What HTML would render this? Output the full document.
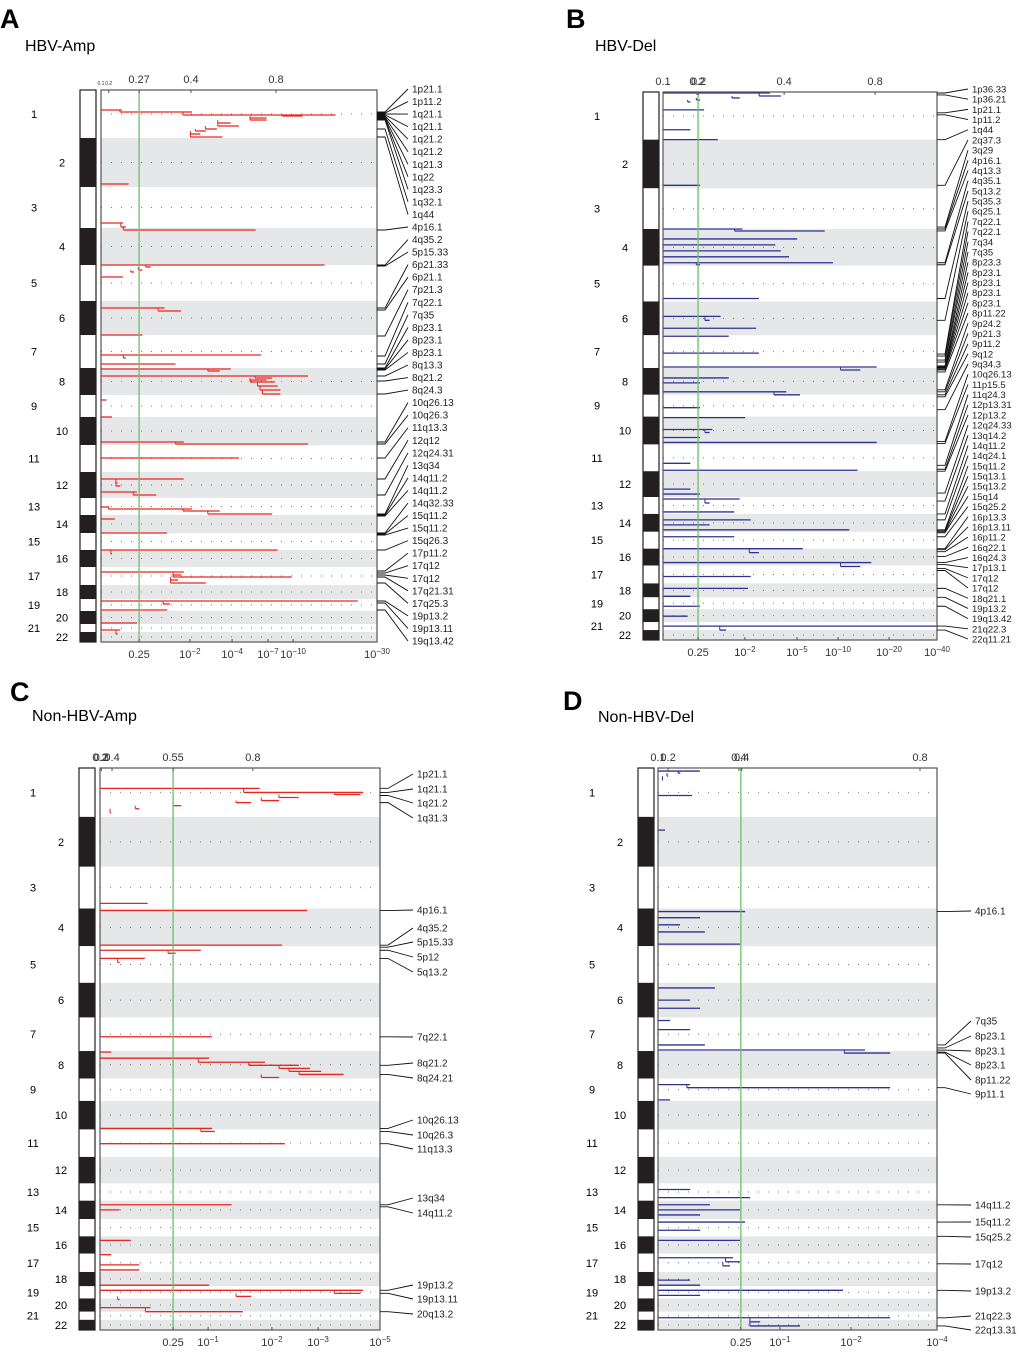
<!DOCTYPE html>
<html><head><meta charset="utf-8">
<style>
body{margin:0;background:#fff;}
svg{display:block;font-family:"Liberation Sans",sans-serif;}
</style></head>
<body>
<svg id="fig" width="1020" height="1352" viewBox="0 0 1020 1352" xmlns="http://www.w3.org/2000/svg">
<text x="0" y="28" font-size="27" font-weight="bold">A</text>
<text x="25" y="51" font-size="16">HBV-Amp</text>
<text x="566" y="28" font-size="27" font-weight="bold">B</text>
<text x="595" y="51" font-size="16">HBV-Del</text>
<text x="10" y="701" font-size="27" font-weight="bold">C</text>
<text x="32" y="721" font-size="16">Non-HBV-Amp</text>
<text x="563" y="710" font-size="27" font-weight="bold">D</text>
<text x="598" y="722" font-size="16">Non-HBV-Del</text>
</svg>
<script>
// genome layout (relative units, total 552)
const chromBounds=[0,48,97,138,175,211,245,278,305,327,355,382,408,425,443,460,477,495,509,521,534,542,552];
const chromNames=["1","2","3","4","5","6","7","8","9","10","11","12","13","14","15","16","17","18","19","20","21","22"];

// Panel A
const aPos=[20,22,25,26,28,30,33,36,39,41,44,47,94,133,137,140,175,177,180,182,187,218,221,245,265,268,274,279,281,286,288,290,292,296,300,304,310,327,352,354,368,389,393,396,402,405,417,419,421,424,429,443,460,464,482,485,487,490,493,511,514,520,533,540,544];
const aVal=[0.076,0.33,0.85,0.73,0.6,0.6,0.47,0.5,0.42,0.38,0.36,0.44,0.1,0.08,0.09,0.56,0.81,0.18,0.15,0.12,0.08,0.23,0.29,0.15,0.58,0.09,0.27,0.47,0.43,0.75,0.62,0.6,0.63,0.64,0.65,0.65,0.02,0.04,0.3,0.75,0.5,0.3,0.06,0.07,0.13,0.2,0.03,0.33,0.43,0.62,0.05,0.24,0.64,0.04,0.3,0.29,0.69,0.28,0.38,0.93,0.25,0.24,0.13,0.07,0.06];
const aThr=0.138;
const aTopTicks=[0,0.028,0.138,0.326,0.634];
const aTopLabels=["0.1","0.2","0.27","0.4","0.8"];
const aBotTicks=[0.138,0.322,0.475,0.605,0.696,1];
const aBotBase=["0.25","10","10","10","10","10"];
const aBotExp=["","−2","−4","−7","−10","−30"];
const aLabels=["1p21.1","1p11.2","1q21.1","1q21.1","1q21.2","1q21.2","1q21.3","1q22","1q23.3","1q32.1","1q44","4p16.1","4q35.2","5p15.33","6p21.33","6p21.1","7p21.3","7q22.1","7q35","8p23.1","8p23.1","8p23.1","8q13.3","8q21.2","8q24.3","10q26.13","10q26.3","11q13.3","12q12","12q24.31","13q34","14q11.2","14q11.2","14q32.33","15q11.2","15q11.2","15q26.3","17p11.2","17q12","17q12","17q21.31","17q25.3","19p13.2","19p13.11","19q13.42"];
const aPeaks=[22,23,24,25,26,27,28,29,30,39,47,140,175,176,218,220,246,266,274,278,279,280,286,291,304,352,354,368,389,405,424,425,426,443,444,445,460,481,483,485,487,493,511,513,520];

// Panel B
const bPos=[1,4,6,8,10,18,38,48,94,138,140,148,154,160,166,172,174,208,226,230,238,246,263,277,280,288,293,302,305,318,328,340,343,348,353,374,381,400,405,410,414,423,431,436,441,448,460,464,474,478,488,500,508,518,528,538,542];
const bVal=[0.39,0.43,0.28,0.135,0.1,0.15,0.1,0.2,0.135,0.29,0.59,0.49,0.41,0.43,0.46,0.62,0.135,0.35,0.21,0.17,0.34,0.24,0.35,0.78,0.72,0.24,0.135,0.45,0.5,0.135,0.3,0.18,0.17,0.135,0.78,0.1,0.71,0.1,0.135,0.28,0.17,0.26,0.32,0.17,0.68,0.26,0.51,0.35,0.76,0.72,0.32,0.31,0.1,0.135,0.09,1.0,0.23];
const bThr=0.128;
const bTopTicks=[0,0.124,0.13,0.442,0.774];
const bTopLabels=["0.1","0.2","0.2","0.4","0.8"];
const bBotTicks=[0.128,0.299,0.489,0.639,0.825,1];
const bBotBase=["0.25","10","10","10","10","10"];
const bBotExp=["","−2","−5","−10","−20","−40"];
const bLabels=["1p36.33","1p36.21","1p21.1","1p11.2","1q44","2q37.3","3q29","4p16.1","4q13.3","4q35.1","5q13.2","5q35.3","6q25.1","7q22.1","7q22.1","7q34","7q35","8p23.3","8p23.1","8p23.1","8p23.1","8p23.1","8p11.22","9p24.2","9p21.3","9p11.2","9q12","9q34.3","10q26.13","11p15.5","11q24.3","12p13.31","12p13.2","12q24.33","13q14.2","14q11.2","14q24.1","15q11.2","15q13.1","15q13.2","15q14","15q25.2","16p13.3","16p13.11","16p11.2","16q22.1","16q24.3","17p13.1","17q12","17q12","18q21.1","19p13.2","19q13.42","21q22.3","22q11.21"];
const bPeaks=[1,3,21,23,48,94,136,138,140,172,174,208,230,264,266,270,272,276,277,278,279,280,282,300,302,305,307,320,352,354,376,380,382,404,412,425,431,441,442,443,444,448,460,461,463,468,474,476,480,482,500,509,518,538,542];

// Panel C
const cPos=[20,24,26,29,32,34,37,40,44,133,140,174,179,182,187,191,264,279,285,289,292,295,298,301,304,354,357,369,429,434,464,478,488,493,508,513,516,519,522,530,534];
const cVal=[0.57,0.94,0.93,0.71,0.64,0.54,0.29,0.14,0.04,0.17,0.74,0.65,0.36,0.27,0.16,0.07,0.40,0.04,0.39,0.59,0.71,0.75,0.79,0.87,0.64,0.40,0.41,0.66,0.47,0.07,0.11,0.04,0.14,0.14,0.39,0.94,0.93,0.54,0.07,0.18,0.51];
const cThr=0.261;
const cTopTicks=[0,0.005,0.043,0.261,0.546];
const cTopLabels=["0.2","0.3","0.4","0.55","0.8"];
const cBotTicks=[0.261,0.386,0.614,0.779,1];
const cBotBase=["0.25","10","10","10","10"];
const cBotExp=["","−1","−2","−3","−5"];
const cLabels=["1p21.1","1q21.1","1q21.2","1q31.3","4p16.1","4q35.2","5p15.33","5p12","5q13.2","7q22.1","8q21.2","8q24.21","10q26.13","10q26.3","11q13.3","13q34","14q11.2","19p13.2","19p13.11","20q13.2"];
const cPeaks=[20,24,27,34,140,174,176,179,187,264,292,301,354,357,369,429,431,513,516,534];

// Panel D
const dPos=[3,5,8,12,27,61,141,147,154,161,173,216,228,236,248,257,272,277,280,311,314,326,414,422,429,434,439,446,454,464,481,485,489,503,508,513,518,540,544,548];
const dVal=[0.15,0.08,0.036,0.018,0.122,0.025,0.312,0.151,0.079,0.168,0.294,0.204,0.115,0.151,0.043,0.115,0.168,0.742,0.832,0.115,0.832,0.043,0.115,0.330,0.186,0.294,0.151,0.312,0.151,0.294,0.269,0.294,0.258,0.115,0.151,0.663,0.151,0.832,0.366,0.509];
const dThr=0.297;
const dTopTicks=[0,0.036,0.29,0.3,0.939];
const dTopLabels=["0.1","0.2","0.4","0.4","0.8"];
const dBotTicks=[0.297,0.437,0.692,1];
const dBotBase=["0.25","10","10","10"];
const dBotExp=["","−1","−2","−4"];
const dLabels=["4p16.1","7q35","8p23.1","8p23.1","8p23.1","8p11.22","9p11.1","14q11.2","15q11.2","15q25.2","17q12","19p13.2","21q22.3","22q13.31"];
const dPeaks=[141,272,275,277,279,280,314,429,446,460,487,513,540,548];

const svg=document.getElementById('fig');
const NS='http://www.w3.org/2000/svg';
function mk(tag,attrs,parent){const e=document.createElementNS(NS,tag);for(const k in attrs)e.setAttribute(k,attrs[k]);(parent||svg).appendChild(e);return e;}

function panel(p){
  const g=mk('g',{});
  
  
  const H=p.bottom-p.top, W=p.right-p.left;
  const yS=v=>p.top+Math.min(v,552)*H/552;
  const xS=v=>p.left+Math.min(v,1)*W;
  for(let i=0;i<22;i++){
    const y0=yS(chromBounds[i]),y1=yS(chromBounds[i+1]);
    if(i%2===1){
      const band=mk('rect',{x:p.left,y:y0,width:W,height:y1-y0,fill:'#e6e7e8'},g);
      
      
    }
    const ideo=mk('rect',{x:p.ideoX,y:y0,width:16,height:y1-y0,fill:i%2?'#231f20':'#fff'},g);
    
    
    const ym=(y0+y1)/2;
    const dl=mk('line',{x1:p.left,x2:p.right,y1:ym,y2:ym,stroke:'#777','stroke-width':1,'stroke-dasharray':'1 9'},g);
    
    
    const lbl=mk('text',{x:(i%2===0&&i!==19&&i!==21)?p.ideoX-46:p.ideoX-18,y:ym+4,'font-size':11,'text-anchor':'middle'},g);
    lbl.textContent=chromNames[i];
    
    
  }
  const ib=mk('rect',{x:p.ideoX,y:p.top,width:16,height:H,fill:'none',stroke:'#231f20','stroke-width':1.2},g);
  
  
  const idx=p.pos.map((v,i)=>i).sort((a,b)=>p.pos[a]-p.pos[b]);
  for(let k=0;k<idx.length;k++){
    const i=idx[k];
    const y=yS(p.pos[i]);
    let start=0;
    if(k>0){const j=idx[k-1];if(p.pos[i]-p.pos[j]<=4)start=Math.min(p.val[j],p.val[i])*0.9;}
    const b=mk('line',{x1:xS(start),x2:xS(p.val[i]),y1:y,y2:y,stroke:p.color,'stroke-width':1.3},g);
    
    
    if(start>0){
      const j=idx[k-1];
      const sx=xS(start);
      const v=mk('line',{x1:sx,x2:sx,y1:yS(p.pos[j]),y2:y,stroke:p.color,'stroke-width':1},g);
      
      
    }
  }
  const th=mk('line',{x1:xS(p.thr),x2:xS(p.thr),y1:p.top,y2:p.bottom,stroke:'#6cbf6c','stroke-width':1.3},g);
  
  
  const fr=mk('rect',{x:p.left,y:p.top,width:W,height:H,fill:'none',stroke:'#555','stroke-width':1.2},g);
  
  
  for(let i=0;i<p.topTicks.length;i++){
    const x=xS(p.topTicks[i]);
    const small=(p.id==='a'&&i<2);
    const t=mk('text',{x:x,y:p.top-(small?5:7),'font-size':small?5:11,'text-anchor':'middle',fill:'#333'},g);
    t.textContent=p.topLabels[i];
    
    
    const tk=mk('line',{x1:x,x2:x,y1:p.top,y2:p.top+3,stroke:'#555'},g);
    
    
  }
  for(let i=0;i<p.botTicks.length;i++){
    const x=xS(p.botTicks[i]);
    const t=mk('text',{x:x,y:p.bottom+16,'font-size':11,'text-anchor':'middle',fill:'#333'},g);
    const s1=mk('tspan',{},t);s1.textContent=p.botBase[i];
    if(p.botExp[i]){const s2=mk('tspan',{'baseline-shift':'super','font-size':8},t);s2.textContent=p.botExp[i];}
    
    
    const tk=mk('line',{x1:x,x2:x,y1:p.bottom,y2:p.bottom-3,stroke:'#555'},g);
    
    
  }
  const n=p.labels.length;
  for(let i=0;i<n;i++){
    const ly=p.labY?p.labY[i]:p.labTop+i*(p.labBot-p.labTop)/(n-1);
    const py=yS(p.peaks[i]);
    const c=mk('polyline',{points:`${p.right},${py} ${p.right+8},${py} ${p.labX-4},${ly}`,fill:'none',stroke:'#111','stroke-width':0.9},g);
    
    
    const t=mk('text',{x:p.labX,y:ly+3.5,'font-size':p.labFont,fill:'#222'},g);
    t.textContent=p.labels[i];
    
    
  }
}
panel({id:'a',ideoX:80,left:101,right:377,top:90,bottom:642,color:'#e8261f',pos:aPos,val:aVal,thr:aThr,topTicks:aTopTicks,topLabels:aTopLabels,botTicks:aBotTicks,botBase:aBotBase,botExp:aBotExp,labels:aLabels,peaks:aPeaks,labX:412,labTop:89,labBot:641,labFont:10});
panel({id:'b',ideoX:643,left:663,right:937,top:92,bottom:640,color:'#2e3192',pos:bPos,val:bVal,thr:bThr,topTicks:bTopTicks,topLabels:bTopLabels,botTicks:bBotTicks,botBase:bBotBase,botExp:bBotExp,labels:bLabels,peaks:bPeaks,labX:972,labTop:89,labBot:639,labFont:9.5});
panel({id:'c',ideoX:79,left:100,right:380,top:768,bottom:1330,color:'#e8261f',pos:cPos,val:cVal,thr:cThr,topTicks:cTopTicks,topLabels:cTopLabels,botTicks:cBotTicks,botBase:cBotBase,botExp:cBotExp,labels:cLabels,peaks:cPeaks,labX:417,labY:[774,789,803,818,910,928,942,957,972,1037,1063,1078,1120,1135,1149,1198,1213,1285,1299,1314],labFont:10});
panel({id:'d',ideoX:638,left:658,right:937,top:768,bottom:1330,color:'#2e3192',pos:dPos,val:dVal,thr:dThr,topTicks:dTopTicks,topLabels:dTopLabels,botTicks:dBotTicks,botBase:dBotBase,botExp:dBotExp,labels:dLabels,peaks:dPeaks,labX:975,labY:[911,1021,1036,1051,1065,1080,1094,1205,1222,1237,1264,1291,1316,1330],labFont:10});
</script>
</body></html>
